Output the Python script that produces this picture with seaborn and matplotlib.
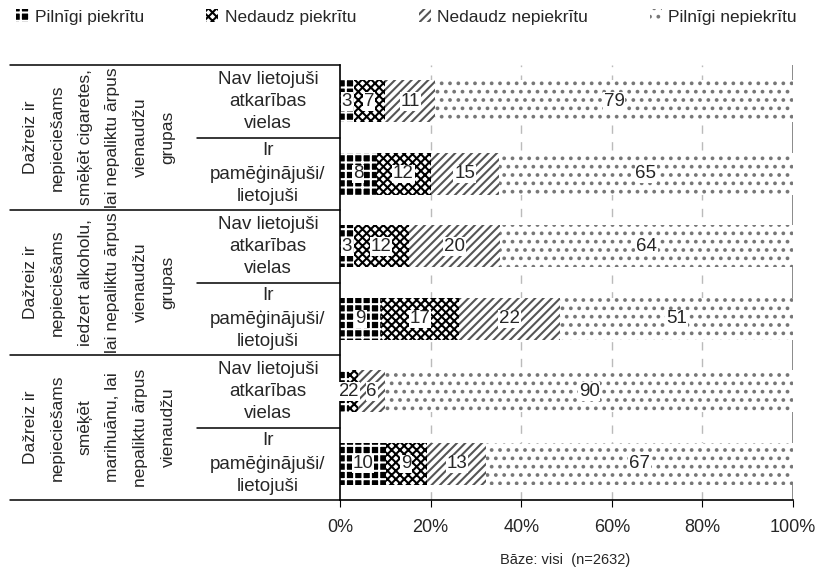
import numpy as np
import pandas as pd
import matplotlib
matplotlib.use('Agg')
import matplotlib.pyplot as plt
import matplotlib.transforms as mtransforms
from matplotlib.patches import Patch
import seaborn as sns

# answer categories (legend order)
categories = ['Pilnīgi piekrītu', 'Nedaudz piekrītu', 'Nedaudz nepiekrītu', 'Pilnīgi nepiekrītu']

groups = [
    'Dažreiz ir\nnepieciešams\nsmēķēt cigaretes,\nlai nepaliktu ārpus\nvienaudžu\ngrupas',
    'Dažreiz ir\nnepieciešams\niedzert alkoholu,\nlai nepaliktu ārpus\nvienaudžu\ngrupas',
    'Dažreiz ir\nnepieciešams\nsmēķēt\nmarihuānu, lai\nnepaliktu ārpus\nvienaudžu',
]
subgroups = ['Nav lietojuši\natkarības\nvielas', 'Ir\npamēģinājuši/\nlietojuši'] * 3

pilnigi_piekritu = [3, 8, 3, 9, 2, 10]
nedaudz_piekritu = [7, 12, 12, 17, 2, 9]
nedaudz_nepiekritu = [11, 15, 20, 22, 6, 13]
pilnigi_nepiekritu = [79, 65, 64, 51, 90, 67]

xticks = [0, 20, 40, 60, 80, 100]
xticklabels = ['0%', '20%', '40%', '60%', '80%', '100%']

sns.set_style('white')
plt.rcParams['font.family'] = ['Liberation Sans', 'DejaVu Sans']
plt.rcParams['hatch.linewidth'] = 1.5

rows = [str(i) for i in range(len(subgroups))]
vals = np.array([pilnigi_piekritu, nedaudz_piekritu, nedaudz_nepiekritu, pilnigi_nepiekritu], dtype=float)
totals = vals.sum(axis=0)
pct = vals / totals * 100  # 100% stacked like the original
cum = np.cumsum(pct, axis=0)

df = pd.DataFrame({'row': rows})
for i in range(4):
    df['cum%d' % i] = cum[i]

styles = [
    dict(fc='black', ec='white', hatch='++'),
    dict(fc='white', ec='black', hatch='xxxx'),
    dict(fc='white', ec='#555555', hatch='////'),
    dict(fc='white', ec='#777777', hatch='..'),
]

fig = plt.figure(figsize=(8.3, 5.69), dpi=100)
ax = fig.add_axes([340 / 830, 1 - 500 / 569, 453 / 830, 435 / 569])

# draw from the longest cumulative bar down so each layer covers the previous
for i in [3, 2, 1, 0]:
    n_before = len(ax.patches)
    sns.barplot(data=df, x='cum%d' % i, y='row', order=rows, orient='h',
                color='white', width=0.58, ax=ax)
    for p in ax.patches[n_before:]:
        p.set_facecolor(styles[i]['fc'])
        p.set_edgecolor(styles[i]['ec'])
        p.set_hatch(styles[i]['hatch'])
        p.set_linewidth(0)

# value labels
for r in range(len(rows)):
    left = 0
    for i in range(4):
        ax.text(left + pct[i, r] / 2, r, '%d' % vals[i, r], ha='center', va='center',
                fontsize=13.5, bbox=dict(fc='white', ec='none', pad=0.5))
        left = cum[i, r]

ax.set_xlim(0, 100)
ax.set_ylim(5.5, -0.5)
ax.set_xticks(xticks)
ax.set_xticklabels(xticklabels, fontsize=13)
ax.set_yticks([])
ax.set_xlabel('')
ax.set_ylabel('')
ax.tick_params(axis='x', length=5, color='black', pad=9, direction='out', bottom=True)
for x in xticks[1:-1]:
    ax.axvline(x, color='#bbbbbb', lw=1, ls=(0, (6, 6)), zorder=0)
ax.axvline(100, color='#777777', lw=1.2, zorder=0)
for s in ['top', 'right']:
    ax.spines[s].set_visible(False)
for s in ['left', 'bottom']:
    ax.spines[s].set_color('black')
    ax.spines[s].set_linewidth(1.2)

# table on the left
line_tr = mtransforms.blended_transform_factory(ax.transAxes, ax.transData)
for y in [-0.5, 1.5, 3.5, 5.5]:
    ax.plot([-0.7285, 0], [y, y], transform=line_tr, clip_on=False, color='black', lw=1.1)
for y in [0.5, 2.5, 4.5]:
    ax.plot([-0.3157, 0], [y, y], transform=line_tr, clip_on=False, color='black', lw=1.1)

text_tr = mtransforms.blended_transform_factory(fig.transFigure, ax.transData)
for g, label in enumerate(groups):
    ax.text(99 / 830, 2 * g + 0.5, label, transform=text_tr, rotation=90,
            ha='center', va='center', multialignment='center', fontsize=12.5,
            linespacing=2.05)
for r, label in enumerate(subgroups):
    ax.text(268 / 830, r, label, transform=text_tr, ha='center', va='center',
            multialignment='center', fontsize=13.5, linespacing=1.4)

handles = [Patch(facecolor=s['fc'], edgecolor=s['ec'], hatch=s['hatch'], lw=0) for s in styles]
fig.legend(handles, categories, loc='center', bbox_to_anchor=(0.49, 1 - 17 / 569), ncol=4,
           frameon=False, fontsize=12.5, handlelength=0.7, handleheight=0.7,
           handletextpad=0.35, columnspacing=3.6)

fig.text(565 / 830, 1 - 560 / 569, 'Bāze: visi  (n=2632)', ha='center', va='center', fontsize=10.5)

fig.savefig('out.png', dpi=100)
